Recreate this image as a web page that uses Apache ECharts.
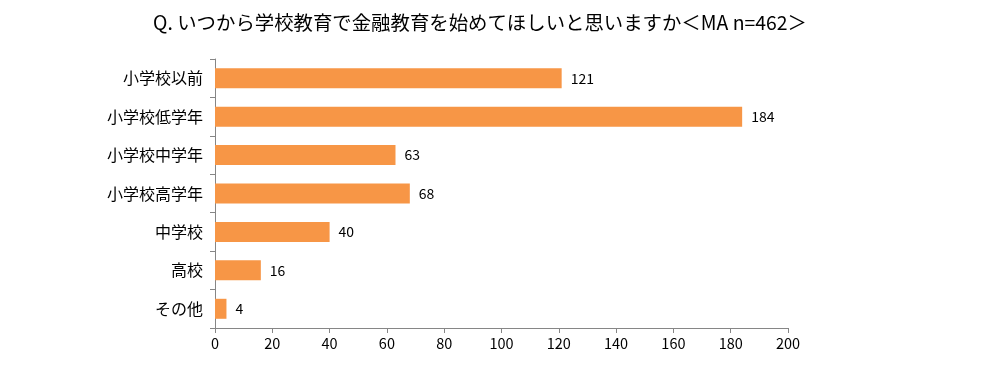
<!DOCTYPE html>
<html><head><meta charset="utf-8">
<script src="https://cdn.jsdelivr.net/npm/echarts@6/dist/echarts.min.js"></script>
<style>html,body{margin:0;padding:0;background:#fff}#c{width:1004px;height:367px}</style>
</head><body><div id="c"></div>
<script>
const titleText = 'Q. いつから学校教育で金融教育を始めてほしいと思いますか＜MA n=462＞';
const categories = ['小学校以前','小学校低学年','小学校中学年','小学校高学年','中学校','高校','その他'];
const values = [121,184,63,68,40,16,4];
const xTicks = [0,20,40,60,80,100,120,140,160,180,200];

const chart = echarts.init(document.getElementById('c'));
chart.setOption({
  animation:false,
  backgroundColor:'#fff',
  title:{text:titleText,left:475,top:8,textAlign:'center',
    textStyle:{fontFamily:'Noto Sans CJK JP',fontSize:19.4,fontWeight:'normal',color:'#000'}},
  grid:{left:215,right:216,top:59,bottom:39},
  xAxis:{type:'value',min:xTicks[0],max:xTicks[xTicks.length-1],interval:20,
    axisLine:{show:true,lineStyle:{color:'#868686'}},
    axisTick:{show:true,length:5,lineStyle:{color:'#868686'}},
    splitLine:{show:false},
    axisLabel:{color:'#000',fontSize:14.5,fontFamily:'Noto Sans CJK JP',margin:8}},
  yAxis:{type:'category',data:categories,inverse:true,
    axisLine:{lineStyle:{color:'#868686'}},
    axisTick:{show:true,length:5,lineStyle:{color:'#868686'}},
    axisLabel:{color:'#000',fontSize:16,fontFamily:'Noto Sans CJK JP',margin:12}},
  series:[{type:'bar',data:values,barWidth:20,
    itemStyle:{color:'#F79646'},
    label:{show:true,position:'right',distance:9,color:'#000',fontSize:14,fontFamily:'Noto Sans CJK JP'}}]
});
</script></body></html>
